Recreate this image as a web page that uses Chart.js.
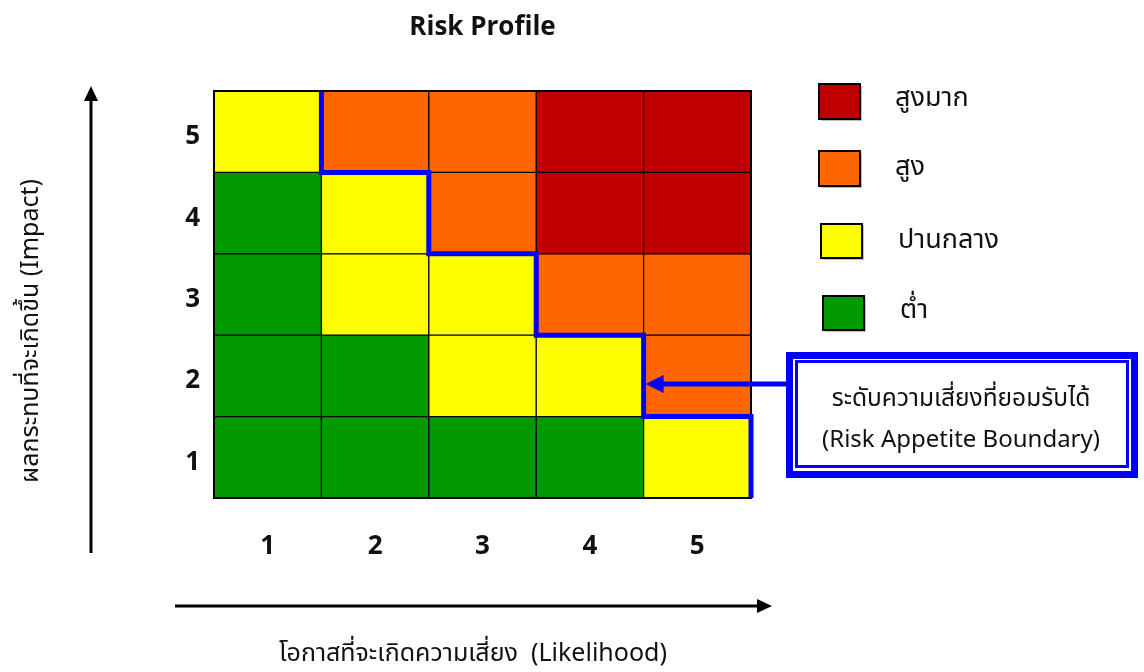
<!DOCTYPE html>
<html>
<head>
<meta charset="utf-8">
<script src="https://cdn.jsdelivr.net/npm/chart.js@4.4.1/dist/chart.umd.min.js"></script>
<style>
  html, body { margin: 0; padding: 0; background: #ffffff; }
  #wrap { width: 1144px; height: 672px; position: relative; }
</style>
</head>
<body>
<div id="wrap"><canvas id="c" width="1144" height="672"></canvas></div>
<script>
// ---- Data ----
const chartTitle = 'Risk Profile';
const likelihoodLabels = ['1', '2', '3', '4', '5'];
const impactLabels = ['1', '2', '3', '4', '5'];
const xTitle = 'โอกาสที่จะเกิดความเสี่ยง  (Likelihood)';
const yTitle = 'ผลกระทบที่จะเกิดขึ้น (Impact)';
// risk level per cell: rows = impact 1..5, columns = likelihood 1..5
// 0 = ต่ำ, 1 = ปานกลาง, 2 = สูง, 3 = สูงมาก
const riskImpact1 = [0, 0, 0, 0, 1];
const riskImpact2 = [0, 0, 1, 1, 2];
const riskImpact3 = [0, 1, 1, 2, 2];
const riskImpact4 = [0, 1, 2, 3, 3];
const riskImpact5 = [1, 2, 2, 3, 3];
const riskRows = [riskImpact1, riskImpact2, riskImpact3, riskImpact4, riskImpact5];
const levelNames = ['ต่ำ', 'ปานกลาง', 'สูง', 'สูงมาก'];
const levelColors = ['#009900', '#FFFF00', '#FF6600', '#C00000'];
// risk appetite boundary (step line along cell edges)
const boundaryX = [1.5, 1.5, 2.5, 2.5, 3.5, 3.5, 4.5, 4.5, 5.5, 5.5];
const boundaryY = [5.5, 4.5, 4.5, 3.5, 3.5, 2.5, 2.5, 1.5, 1.5, 0.5];
const calloutLine1 = 'ระดับความเสี่ยงที่ยอมรับได้';
const calloutLine2 = '(Risk Appetite Boundary)';
const calloutTarget = { x: 4.5, y: 1.9 };

const FONT = "'Noto Sans Thai', Tahoma, 'Open Sans', 'DejaVu Sans', sans-serif";
const BOLD = "'Open Sans', 'DejaVu Sans', sans-serif";

// ---- Datasets ----
const cellDatasets = riskRows.map((row, r) => {
  const impact = r + 1;
  return {
    type: 'bar',
    label: 'Impact ' + impactLabels[r],
    data: row.map((lvl, c) => ({ x: c + 1, y: [impact - 0.5, impact + 0.5] })),
    backgroundColor: row.map(lvl => levelColors[lvl]),
    borderColor: '#000000',
    borderWidth: 1,
    borderSkipped: false,
    grouped: false,
    barPercentage: 1.0,
    categoryPercentage: 1.0,
    order: 2
  };
});

const boundaryDataset = {
  type: 'line',
  label: 'Risk Appetite Boundary',
  data: boundaryX.map((x, i) => ({ x: x, y: boundaryY[i] })),
  borderColor: '#0000FF',
  borderWidth: 5,
  pointRadius: 0,
  tension: 0,
  fill: false,
  clip: false,
  borderJoinStyle: 'miter',
  borderCapStyle: 'butt',
  order: 0
};

function arrowHead(ctx, tipX, tipY, dir, len, half) {
  ctx.beginPath();
  if (dir === 'up') {
    ctx.moveTo(tipX, tipY); ctx.lineTo(tipX - half, tipY + len); ctx.lineTo(tipX + half, tipY + len);
  } else if (dir === 'right') {
    ctx.moveTo(tipX, tipY); ctx.lineTo(tipX - len, tipY - half); ctx.lineTo(tipX - len, tipY + half);
  } else if (dir === 'left') {
    ctx.moveTo(tipX, tipY); ctx.lineTo(tipX + len, tipY - half); ctx.lineTo(tipX + len, tipY + half);
  }
  ctx.closePath();
  ctx.fill();
}

const decorPlugin = {
  id: 'decor',
  beforeDatasetDraw(chart, args) {
    // draw outer frame right before the boundary line (last dataset)
    if (args.index === chart.data.datasets.length - 1) {
      const ctx = chart.ctx;
      const a = chart.chartArea;
      ctx.save();
      ctx.strokeStyle = '#000';
      ctx.lineWidth = 2;
      ctx.strokeRect(a.left, a.top, a.right - a.left, a.bottom - a.top);
      ctx.restore();
    }
  },
  afterDraw(chart) {
    const ctx = chart.ctx;
    const xs = chart.scales.x, ys = chart.scales.y;
    ctx.save();
    // Axis arrows
    ctx.strokeStyle = '#000'; ctx.fillStyle = '#000'; ctx.lineWidth = 3;
    ctx.beginPath(); ctx.moveTo(91, 553); ctx.lineTo(91, 98); ctx.stroke();
    arrowHead(ctx, 91, 86, 'up', 15, 7);
    ctx.beginPath(); ctx.moveTo(175, 606); ctx.lineTo(760, 606); ctx.stroke();
    arrowHead(ctx, 772, 606, 'right', 15, 7);

    // Axis titles
    ctx.fillStyle = '#111';
    ctx.font = '25px ' + FONT;
    ctx.textAlign = 'center'; ctx.textBaseline = 'middle';
    ctx.fillText(xTitle, 473, 656);
    ctx.save();
    ctx.translate(33, 331);
    ctx.rotate(-Math.PI / 2);
    ctx.font = '25px ' + FONT;
    ctx.fillText(yTitle, 0, 0);
    ctx.restore();

    // Legend
    const legendItems = [
      { lvl: 3, box: [819, 84, 41, 35], tx: 895, ty: 101 },
      { lvl: 2, box: [819, 151, 41, 35], tx: 895, ty: 170 },
      { lvl: 1, box: [821, 224, 41, 34], tx: 898, ty: 243 },
      { lvl: 0, box: [823, 296, 41, 34], tx: 900, ty: 313 }
    ];
    legendItems.forEach(it => {
      const [bx, by, bw, bh] = it.box;
      ctx.fillStyle = 'rgba(0,0,0,0.25)';
      ctx.fillRect(bx + 2, by + 2, bw, bh);
      ctx.fillStyle = levelColors[it.lvl];
      ctx.fillRect(bx, by, bw, bh);
      ctx.strokeStyle = '#000'; ctx.lineWidth = 2;
      ctx.strokeRect(bx, by, bw, bh);
      ctx.fillStyle = '#111';
      ctx.font = '27px ' + FONT;
      ctx.textAlign = 'left'; ctx.textBaseline = 'middle';
      ctx.fillText(levelNames[it.lvl], it.tx, it.ty);
    });

    // Callout arrow to the boundary
    const tipX = xs.getPixelForValue(calloutTarget.x) + 2;
    const tipY = ys.getPixelForValue(calloutTarget.y);
    ctx.strokeStyle = '#0000FF'; ctx.fillStyle = '#0000FF'; ctx.lineWidth = 5;
    ctx.beginPath(); ctx.moveTo(790, tipY); ctx.lineTo(tipX + 14, tipY); ctx.stroke();
    arrowHead(ctx, tipX, tipY, 'left', 18, 9);

    // Callout box (double border)
    ctx.fillStyle = '#fff';
    ctx.fillRect(786, 352, 352, 126);
    ctx.strokeStyle = '#0000FF';
    ctx.lineWidth = 7;
    ctx.strokeRect(789.5, 355.5, 345, 119);
    ctx.lineWidth = 3;
    ctx.strokeRect(796.5, 361.5, 331, 105);
    ctx.fillStyle = '#111';
    ctx.font = '24.5px ' + FONT;
    ctx.textAlign = 'center'; ctx.textBaseline = 'middle';
    ctx.fillText(calloutLine1, 961, 401);
    ctx.font = '24px ' + FONT;
    ctx.fillText(calloutLine2, 961, 442);
    ctx.restore();
  }
};

new Chart(document.getElementById('c'), {
  type: 'bar',
  data: { datasets: [...cellDatasets, boundaryDataset] },
  plugins: [decorPlugin],
  options: {
    responsive: false,
    animation: false,
    layout: { padding: { left: 150, right: 393, top: 0, bottom: 110.8 } },
    plugins: {
      legend: { display: false },
      tooltip: { enabled: false },
      title: {
        display: true,
        text: chartTitle,
        fullSize: false,
        color: '#111',
        font: { family: BOLD, size: 26, weight: 'bold' },
        padding: { top: 12.4, bottom: 47.4 }
      }
    },
    scales: {
      x: {
        type: 'linear',
        min: 0.5, max: 5.5,
        offset: false,
        grid: { display: false },
        border: { display: false },
        afterBuildTicks: (axis) => { axis.ticks = likelihoodLabels.map((l, i) => ({ value: i + 1 })); },
        afterFit: (axis) => { axis.height = 63.2; },
        ticks: {
          padding: 24.8,
          maxRotation: 0,
          color: '#111',
          font: { family: BOLD, size: 26, weight: 'bold' },
          callback: (v) => likelihoodLabels[Math.round(v) - 1]
        }
      },
      y: {
        type: 'linear',
        min: 0.5, max: 5.5,
        grid: { display: false, drawTicks: false },
        border: { display: false },
        afterBuildTicks: (axis) => { axis.ticks = impactLabels.map((l, i) => ({ value: i + 1 })); },
        afterFit: (axis) => { axis.width = 64; },
        ticks: {
          padding: 14,
          labelOffset: 5,
          color: '#111',
          font: { family: BOLD, size: 26, weight: 'bold' },
          callback: (v) => impactLabels[Math.round(v) - 1]
        }
      }
    }
  }
});
</script>
</body>
</html>
